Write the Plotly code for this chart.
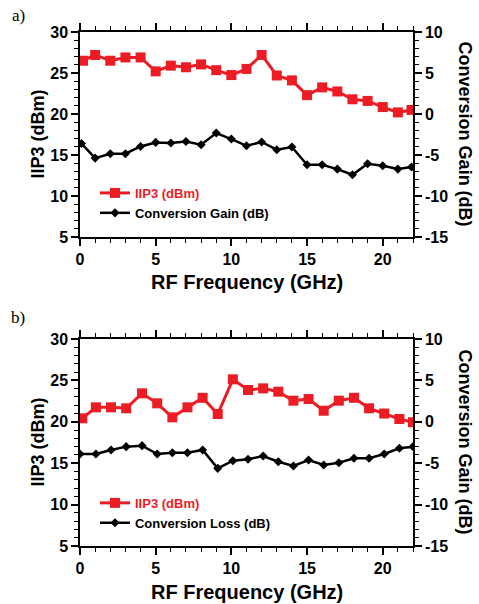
import plotly.graph_objects as go
from plotly.subplots import make_subplots

# ---- data (a) ----
freq_a = [0.2, 1, 2, 3, 4, 5, 6, 7, 8, 9, 10, 11, 12, 13, 14, 15, 16, 17, 18, 19, 20, 21, 21.9]
iip3_a = [26.5, 27.2, 26.5, 26.9, 26.9, 25.2, 25.9, 25.7, 26.05, 25.35, 24.75, 25.5, 27.2,
          24.7, 24.1, 22.3, 23.25, 22.75, 21.8, 21.6, 20.85, 20.2, 20.5]
freq_a_cg = [0.1, 1, 2, 3, 4, 5, 6, 7, 8, 9, 10, 11, 12, 13, 14, 15, 16, 17, 18, 19, 20, 21, 21.9]
gain_a = [-3.6, -5.37, -4.84, -4.84, -3.95, -3.46, -3.54, -3.34, -3.74, -2.32, -3.05, -3.87,
          -3.41, -4.35, -4.02, -6.18, -6.18, -6.71, -7.4, -6.06, -6.3, -6.71, -6.46]

# ---- data (b) ----
freq_b = [0.15, 1.05, 2.05, 3.05, 4.1, 5.1, 6.1, 7.1, 8.1, 9.1, 10.1, 11.1, 12.1, 13.1, 14.1,
          15.1, 16.1, 17.1, 18.1, 19.1, 20.1, 21.1, 22.0]
iip3_b = [20.42, 21.75, 21.75, 21.63, 23.44, 22.23, 20.54, 21.75, 22.9, 20.94, 25.13, 23.84,
          24.04, 23.64, 22.55, 22.75, 21.34, 22.55, 22.9, 21.63, 21.0, 20.34, 19.95]
freq_b_cl = [0.0, 1.05, 2.05, 3.05, 4.1, 5.1, 6.1, 7.1, 8.1, 9.1, 10.1, 11.1, 12.1, 13.1, 14.1,
             15.1, 16.1, 17.1, 18.1, 19.1, 20.1, 21.1, 22.0]
loss_b = [-3.89, -3.89, -3.4, -3.0, -2.88, -3.89, -3.73, -3.73, -3.4, -5.62, -4.7, -4.53,
          -4.13, -4.82, -5.34, -4.61, -5.22, -4.94, -4.41, -4.41, -3.89, -3.2, -3.0]

x_ticks = [0, 5, 10, 15, 20]
left_ticks = [5, 10, 15, 20, 25, 30]
right_ticks = [-15, -10, -5, 0, 5, 10]
right_ticktext = ["-15", "-10", "-5", "0", "5", "10"]

RED = "#ec1c24"
FONT = "Liberation Sans, Arial, sans-serif"

fig = make_subplots(rows=2, cols=1, specs=[[{"secondary_y": True}], [{"secondary_y": True}]])

fig.add_trace(go.Scatter(x=freq_a, y=iip3_a, mode="lines+markers",
                         name="<span style='color:%s'>IIP3 (dBm)</span>" % RED,
                         line=dict(color=RED, width=3),
                         marker=dict(symbol="square", size=10, color=RED),
                         legend="legend"), row=1, col=1, secondary_y=False)
fig.add_trace(go.Scatter(x=freq_a_cg, y=gain_a, mode="lines+markers",
                         name="Conversion Gain (dB)",
                         line=dict(color="black", width=2.5),
                         marker=dict(symbol="diamond", size=7, color="black"),
                         legend="legend"), row=1, col=1, secondary_y=True)
fig.add_trace(go.Scatter(x=freq_b, y=iip3_b, mode="lines+markers",
                         name="<span style='color:%s'>IIP3 (dBm)</span>" % RED,
                         line=dict(color=RED, width=3),
                         marker=dict(symbol="square", size=10, color=RED),
                         legend="legend2"), row=2, col=1, secondary_y=False)
fig.add_trace(go.Scatter(x=freq_b_cl, y=loss_b, mode="lines+markers",
                         name="Conversion Loss (dB)",
                         line=dict(color="black", width=2.5),
                         marker=dict(symbol="diamond", size=7, color="black"),
                         legend="legend2"), row=2, col=1, secondary_y=True)

tickfont = dict(family=FONT, size=16, color="black", weight="bold")
common = dict(showline=True, linecolor="black", linewidth=1.5, ticks="outside",
              tickcolor="black", tickwidth=1.5, ticklen=7, showgrid=False, zeroline=False,
              tickfont=tickfont, automargin=False)
minor = dict(dtick=1, ticks="outside", ticklen=4, tickcolor="black", tickwidth=1.2, showgrid=False)

top_dom = [0.601, 1.0]
bot_dom = [0.0, 0.4027]

fig.update_xaxes(range=[0, 22], tickvals=x_ticks, mirror="ticks", minor=minor, **common)
fig.update_layout(
    xaxis=dict(domain=[0, 1]),
    xaxis2=dict(domain=[0, 1]),
    yaxis=dict(domain=top_dom, range=[5, 30], tickvals=left_ticks, minor=minor, **common),
    yaxis2=dict(range=[-15, 10], tickvals=right_ticks, ticktext=right_ticktext, minor=minor,
                side="right", **common),
    yaxis3=dict(domain=bot_dom, range=[5, 30], tickvals=left_ticks, minor=minor, **common),
    yaxis4=dict(range=[-15, 10], tickvals=right_ticks, ticktext=right_ticktext, minor=minor,
                side="right", **common),
)

legfont = dict(family=FONT, size=13, color="black", weight="bold")
fig.update_layout(
    width=479, height=604,
    margin=dict(l=80, r=66, t=32, b=58, autoexpand=False),
    paper_bgcolor="white", plot_bgcolor="white",
    font=dict(family=FONT, color="black"),
    legend=dict(x=0.045, y=0.716, xanchor="left", yanchor="top", font=legfont,
                bgcolor="rgba(0,0,0,0)", tracegroupgap=0, itemwidth=30),
    legend2=dict(x=0.045, y=0.113, xanchor="left", yanchor="top", font=legfont,
                 bgcolor="rgba(0,0,0,0)", tracegroupgap=0, itemwidth=30),
)

title_font = dict(family=FONT, size=18, color="black", weight="bold")
anns = []
for dom, label_y, panel, panel_y in [(top_dom, 0.5136, "a)", 1.033), (bot_dom, -0.0895, "b)", 0.4436)]:
    cy = (dom[0] + dom[1]) / 2
    anns.append(dict(text="IIP3 (dBm)", x=-0.129, y=cy, xref="paper", yref="paper",
                     textangle=-90, showarrow=False, font=title_font, xanchor="center", yanchor="middle"))
    anns.append(dict(text="Conversion Gain (dB)", x=1.159, y=cy, xref="paper", yref="paper",
                     textangle=90, showarrow=False, font=title_font, xanchor="center", yanchor="middle"))
    anns.append(dict(text="RF Frequency (GHz)", x=0.5, y=label_y, xref="paper", yref="paper",
                     showarrow=False, font=dict(family=FONT, size=20, color="black", weight="bold"),
                     xanchor="center", yanchor="middle"))
    anns.append(dict(text=panel, x=-0.186, y=panel_y, xref="paper", yref="paper", showarrow=False,
                     font=dict(family="Liberation Serif, Times New Roman, serif", size=17, color="black"),
                     xanchor="center", yanchor="middle"))
fig.update_layout(annotations=anns)

fig.write_html("out.html", config={"displayModeBar": False},
               post_script="document.body.style.margin='0';document.body.style.overflow='hidden';")
